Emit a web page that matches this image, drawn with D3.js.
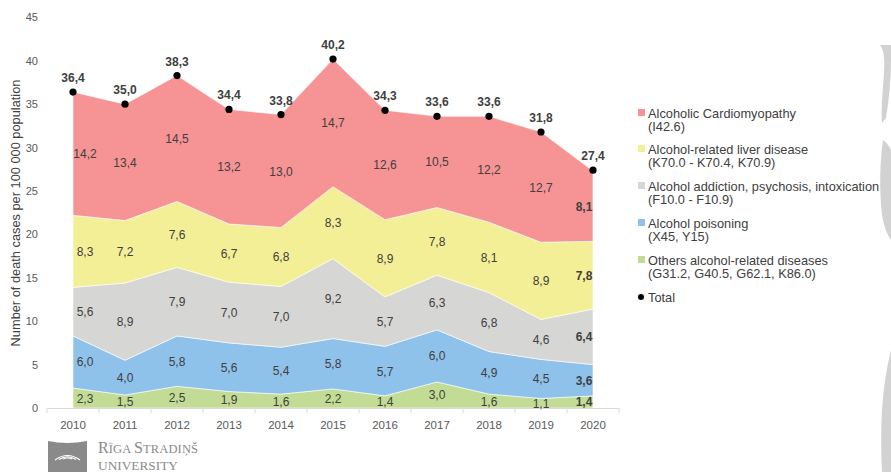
<!DOCTYPE html>
<html><head><meta charset="utf-8">
<script src="https://cdn.jsdelivr.net/npm/d3@7"></script>
<style>body{margin:0;background:#fff}svg{display:block;font-family:"Liberation Sans",Arial,sans-serif}</style>
</head><body><svg id="c" width="891" height="472"></svg>
<script>
const years = ["2010","2011","2012","2013","2014","2015","2016","2017","2018","2019","2020"];
const others = [2.3,1.5,2.5,1.9,1.6,2.2,1.4,3.0,1.6,1.1,1.4];
const poisoning = [6.0,4.0,5.8,5.6,5.4,5.8,5.7,6.0,4.9,4.5,3.6];
const addiction = [5.6,8.9,7.9,7.0,7.0,9.2,5.7,6.3,6.8,4.6,6.4];
const liver = [8.3,7.2,7.6,6.7,6.8,8.3,8.9,7.8,8.1,8.9,7.8];
const cardio = [14.2,13.4,14.5,13.2,13.0,14.7,12.6,10.5,12.2,12.7,8.1];
const total = [36.4,35.0,38.3,34.4,33.8,40.2,34.3,33.6,33.6,31.8,27.4];
const yTicks = [0,5,10,15,20,25,30,35,40,45];
const seriesNames = [
  ["Others alcohol-related diseases","(G31.2, G40.5, G62.1, K86.0)"],
  ["Alcohol poisoning","(X45, Y15)"],
  ["Alcohol addiction, psychosis, intoxication","(F10.0 - F10.9)"],
  ["Alcohol-related liver disease","(K70.0 - K70.4, K70.9)"],
  ["Alcoholic Cardiomyopathy","(I42.6)"]
];
const colors = ["#c3dc95","#8ec2ea","#d6d6d4","#f3ef97","#f69394"];

const svg = d3.select("#c");
const keys = ["others","poisoning","addiction","liver","cardio"];
const data = years.map((y,i)=>({year:y,others:others[i],poisoning:poisoning[i],addiction:addiction[i],liver:liver[i],cardio:cardio[i],total:total[i]}));
const stack = d3.stack().keys(keys)(data);

const x = d3.scaleBand().domain(years).range([47,619]);
const xc = d => x(d) + x.bandwidth()/2;
const y = d3.scaleLinear().domain([0,45]).range([408,17.4]);

// areas
const area = d3.area().x(d=>xc(d.data.year)).y0(d=>y(d[0])).y1(d=>y(d[1]));
svg.append("g").selectAll("path").data(stack).join("path")
  .attr("d",area).attr("fill",(d,i)=>colors[i]).attr("stroke","#fff").attr("stroke-width",0.6);

// y axis labels
svg.append("g").selectAll("text").data(yTicks).join("text")
  .attr("x",38).attr("y",d=>y(d)+4).attr("text-anchor","end")
  .attr("font-size",11).attr("fill","#595959").text(d=>d);

// x axis
const xa = svg.append("g").attr("transform","translate(0,408)")
  .call(d3.axisBottom(x).tickSize(0).tickPadding(13));
xa.select(".domain").attr("stroke","#d9d9d9");
xa.selectAll("text").attr("font-size",11.5).attr("fill","#595959").attr("font-family","Liberation Sans, Arial, sans-serif");
svg.append("g").selectAll("line").data(years.concat(["end"])).join("line")
  .attr("x1",(d,i)=>47+i*x.bandwidth()).attr("x2",(d,i)=>47+i*x.bandwidth())
  .attr("y1",408).attr("y2",413).attr("stroke","#d9d9d9");

// segment labels
const fmt = v => v.toFixed(1).replace(".",",");
stack.forEach((s)=>{
  svg.append("g").selectAll("text").data(s).join("text")
    .attr("x",(d,i)=>xc(d.data.year) + (i===0?12:(i===years.length-1?-9:0)))
    .attr("y",d=>y((d[0]+d[1])/2)+4.5)
    .attr("text-anchor","middle").attr("font-size",12).attr("fill","#404040")
    .attr("font-weight",(d,i)=>i===years.length-1?"bold":"normal")
    .text(d=>fmt(d[1]-d[0]));
});

// total dots & labels
svg.append("g").selectAll("circle").data(data).join("circle")
  .attr("cx",d=>xc(d.year)).attr("cy",d=>y(d.total)).attr("r",3.6).attr("fill","#000");
svg.append("g").selectAll("text").data(data).join("text")
  .attr("x",d=>xc(d.year)).attr("y",d=>y(d.total)-10)
  .attr("text-anchor","middle").attr("font-size",12).attr("font-weight","bold").attr("fill","#404040")
  .text(d=>fmt(d.total));

// y title
svg.append("text").attr("transform","translate(20,213) rotate(-90)")
  .attr("text-anchor","middle").attr("font-size",12.8).attr("fill","#404040")
  .text("Number of death cases per 100 000 population");

// legend
const lg = svg.append("g");
const legendOrder = [4,3,2,1,0];
const legY = [113,149,186,223,260];
legendOrder.forEach((si,k)=>{
  const yy = legY[k];
  lg.append("rect").attr("x",638).attr("y",yy-4).attr("width",7).attr("height",7).attr("fill",colors[si]);
  lg.append("text").attr("x",648).attr("y",yy+4.5).attr("font-size",12.8).attr("fill","#404040").text(seriesNames[si][0]);
  lg.append("text").attr("x",648).attr("y",yy+18).attr("font-size",12.8).attr("fill","#404040").text(seriesNames[si][1]);
});
lg.append("circle").attr("cx",641).attr("cy",297).attr("r",3).attr("fill","#000");
lg.append("text").attr("x",648).attr("y",301.5).attr("font-size",12.8).attr("fill","#404040").text("Total");

// decoration right
const dec = svg.append("g").attr("fill","#d2d2d2");
dec.append("path").attr("d","M880,45 C884,50 885,60 884,72 C883,90 881,105 882,123 L886,118 C889,100 891,80 891,60 L891,45 Z");
dec.append("path").attr("d","M883,140 C880,160 879,190 882,215 C884,228 888,236 891,240 L891,150 C889,146 886,142 883,140 Z");
dec.append("path").attr("d","M882,472 C880,430 881,390 891,350 L891,472 Z");

// logo
const logo = svg.append("g");
logo.append("path").attr("d","M48,441 Q67,445 87,441 L87,472 L48,472 Z").attr("fill","#8a8a8a");
[0,1,2].forEach(i=>{
  logo.append("path").attr("d",`M${55+i*4},${460-i*0.5} Q67.5,${451+i*3} ${80-i*4},${460-i*0.5}`)
    .attr("fill","none").attr("stroke","#fff").attr("stroke-width",1.2);
});
const t1 = logo.append("text").attr("x",98).attr("y",453).attr("font-family","Liberation Serif, serif")
  .attr("fill","#8a8a8a").attr("textLength",100).attr("lengthAdjust","spacing");
t1.append("tspan").attr("font-size",16).text("R");
t1.append("tspan").attr("font-size",12.5).text("ĪGA ");
t1.append("tspan").attr("font-size",16).text("S");
t1.append("tspan").attr("font-size",12.5).text("TRADIŅŠ");
logo.append("text").attr("x",98).attr("y",470).attr("font-family","Liberation Serif, serif")
  .attr("font-size",13).attr("fill","#8a8a8a").attr("textLength",80).attr("lengthAdjust","spacingAndGlyphs").text("UNIVERSITY");
</script></body></html>
